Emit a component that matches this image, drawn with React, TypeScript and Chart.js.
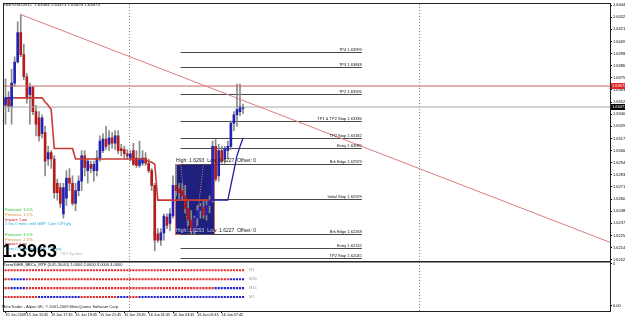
import React, { useEffect, useRef } from "react";
import { Chart, registerables } from "chart.js";

Chart.register(...registerables);

const FONT = "'Liberation Sans', 'DejaVu Sans', sans-serif";

const symbolTitle = "GBPUSD,M15  1.63464 1.63473 1.63459 1.63473";

// 15-minute candles, bar 0 = 15 Jun 2009 14:00
const opens = [1.6349,1.6356,1.6348,1.6370,1.6390,1.6418,1.6397,1.6376,1.6359,1.6366,
1.6343,1.6337,1.6322,1.6323,1.6298,1.6304,1.6298,1.6275,1.6271,1.6246,
1.6261,1.6280,1.6275,1.6256,1.6268,1.6277,1.6301,1.6287,1.6293,1.6287,
1.6287,1.6299,1.6306,1.6317,1.6312,1.6318,1.6313,1.6320,1.6308,1.6307,
1.6303,1.6299,1.6306,1.6299,1.6292,1.6294,1.6299,1.6294,1.6287,1.6273,
1.6227,1.6221,1.6228,1.6243,1.6237,1.6244,1.6273,1.6270,1.6268,1.6263,
1.6251,1.6240,1.6230,1.6242,1.6249,1.6253,1.6245,1.6254,1.6259,1.6310,
1.6282,1.6306,1.6298,1.6306,1.6310,1.6332,1.6340,1.6343,1.6346];
const highs = [1.6374,1.6362,1.6383,1.6395,1.6428,1.6435,1.6407,1.6379,1.6370,1.6367,
1.6349,1.6343,1.6340,1.6329,1.6310,1.6306,1.6301,1.6279,1.6275,1.6275,
1.6287,1.6289,1.6282,1.6275,1.6282,1.6306,1.6306,1.6298,1.6296,1.6296,
1.6306,1.6320,1.6322,1.6329,1.6325,1.6323,1.6325,1.6325,1.6312,1.6310,
1.6307,1.6306,1.6313,1.6306,1.6315,1.6306,1.6304,1.6298,1.6289,1.6275,
1.6232,1.6232,1.6246,1.6246,1.6251,1.6282,1.6293,1.6275,1.6275,1.6273,
1.6259,1.6249,1.6244,1.6254,1.6256,1.6259,1.6259,1.6263,1.6315,1.6317,
1.6312,1.6310,1.6310,1.6315,1.6334,1.6343,1.6369,1.6369,1.6350];
const lows = [1.6331,1.6343,1.6331,1.6367,1.6389,1.6395,1.6373,1.6351,1.6331,1.6340,
1.6320,1.6315,1.6318,1.6282,1.6292,1.6289,1.6261,1.6259,1.6252,1.6242,
1.6254,1.6268,1.6254,1.6249,1.6263,1.6268,1.6282,1.6275,1.6285,1.6277,
1.6282,1.6296,1.6304,1.6307,1.6306,1.6308,1.6307,1.6303,1.6301,1.6299,
1.6298,1.6296,1.6292,1.6290,1.6290,1.6292,1.6292,1.6285,1.6268,1.6211,
1.6219,1.6216,1.6221,1.6232,1.6230,1.6242,1.6263,1.6260,1.6259,1.6247,
1.6235,1.6227,1.6227,1.6235,1.6242,1.6242,1.6240,1.6247,1.6257,1.6277,
1.6277,1.6294,1.6294,1.6298,1.6307,1.6325,1.6329,1.6339,1.6341];
const closes = [1.6356,1.6348,1.6370,1.6390,1.6418,1.6397,1.6376,1.6357,1.6366,1.6343,
1.6331,1.6320,1.6337,1.6296,1.6304,1.6298,1.6266,1.6266,1.6256,1.6271,
1.6280,1.6275,1.6256,1.6268,1.6277,1.6301,1.6290,1.6296,1.6289,1.6293,
1.6299,1.6315,1.6317,1.6310,1.6318,1.6313,1.6320,1.6306,1.6306,1.6303,
1.6301,1.6303,1.6293,1.6292,1.6298,1.6299,1.6294,1.6287,1.6273,1.6221,
1.6221,1.6228,1.6244,1.6235,1.6246,1.6273,1.6268,1.6266,1.6263,1.6251,
1.6240,1.6230,1.6242,1.6249,1.6253,1.6245,1.6254,1.6259,1.6310,1.6279,
1.6306,1.6296,1.6308,1.6310,1.6332,1.6340,1.6345,1.6348,1.6347];

// trailing stop line: [bar, price]
const redStop: [number, number][] = [[3,1.6356],[12,1.6356],[13,1.6352],[14,1.6349],[15,1.6345],[16,1.6308],[22,1.6308],[23,1.6298],[45,1.6298],[46,1.6297],[47,1.6296],[48,1.6295],[49,1.6293],[50,1.6259],[67,1.6259]];
const blueStop: [number, number | null][] = [[0,1.6356],[3,1.6356],[35,null],[67,1.6259],[73,1.6259],[74,1.6273],[75,1.6287],[76,1.6301],[77,1.6310],[78,1.6318]];

const trendLine: [number, number][] = [[5, 1.6435], [198.5, 1.6219]];
const resistanceLevel = 1.63672;
const bidLevel = 1.63473;

const targetPrices = [1.63999, 1.63848, 1.63596, 1.63336, 1.63182, 1.63085, 1.62929, 1.62599, 1.62268, 1.62132, 1.62045];
const targetNames = ["TP4", "TP3", "TP2", "TP1 & TP2 Stop", "TP2 Stop", "Entry", "Brk Edge", "Initial Stop", "Brk Edge", "Entry", "TP2 Stop"];
const targetFrom = 57.5;
const targetTo = 117;

const boxHigh = 1.6293;
const boxLow = 1.6227;
const boxFrom = 55.5;
const boxTo = 68.5;
const boxLabel = "High: 1.6293  Low: 1.6227  Offset: 0";
const boxGuides: [number, number][] = [[57.5, 60], [65, 62.3]];

const daySeparators = [40.6, 135.8];

const xTickIdx = [0, 7, 15, 23, 31, 39, 47, 55, 63, 71];
const xTickLabels = ["15 Jun 2009", "15 Jun 15:45", "15 Jun 17:45", "15 Jun 19:45", "15 Jun 21:45", "15 Jun 23:45", "16 Jun 01:45", "16 Jun 03:45", "16 Jun 05:45", "16 Jun 07:45"];
const yTickValues = [1.62025, 1.62140, 1.62255, 1.62370, 1.62485, 1.62600, 1.62715, 1.62830, 1.62945, 1.63060, 1.63175, 1.63290, 1.63405, 1.63520, 1.63635, 1.63750, 1.63865, 1.63980, 1.64095, 1.64210, 1.64325, 1.64440];

const panelTitle = "TzeroSilHS_BBCa_MTF (0.05,30,60) 1.0000 2.0000 3.0000 4.0000";
const panelRows = ["H1", "M30", "M15", "M5"];
const panelRowValues = [4, 3, 2, 1];
const h1Runs: [string, number][] = [["d", 79]];
const m30Runs: [string, number][] = [["d", 2], ["u", 5], ["d", 67], ["u", 5]];
const m15Runs: [string, number][] = [["d", 2], ["u", 5], ["d", 62], ["u", 10]];
const m5Runs: [string, number][] = [["d", 11], ["u", 14], ["d", 12], ["u", 4], ["d", 3], ["u", 35]];

const newsGroup1: [string, string][] = [["Forecast: 1.5%", "#22c022"], ["Previous: 1.5%", "#d88a2a"], ["Impact: Low", "#c42020"], ["1 hrs 0 mins until GBP: Core CPI y/y", "#1fa8d8"]];
const newsGroup2: [string, string][] = [["Forecast: 1.5%", "#22c022"], ["Previous: 2.3%", "#d88a2a"], ["Impact: Low", "#c42020"], ["1 hrs 0 mins until GBP: CPI y/y", "#1fa8d8"]];
const bigValue = "1.3963";
const systemName = "TSV System";
const footer = "MetaTrader - Alpari UK, \u00a9 2001-2009 MetaQuotes Software Corp.";

const BULL = "#2323b4";
const BEAR = "#b21c1c";
const DOT_UP = "#2020d0";
const DOT_DN = "#e42a2a";

function expandRuns(runs: [string, number][]): string[] {
  const out: string[] = [];
  runs.forEach(([s, n]) => { for (let k = 0; k < n; k++) out.push(s); });
  return out;
}

const overlayPlugin = {
  id: "mtOverlay",
  beforeDatasetsDraw(chart: any) {
    const { ctx, chartArea, scales } = chart;
    const x = scales.x, y = scales.y;
    ctx.save();
    ctx.strokeStyle = "#8c8c8c";
    ctx.lineWidth = 1;
    ctx.setLineDash([1, 2]);
    daySeparators.forEach((d) => {
      const px = Math.round(x.getPixelForValue(d)) + 0.5;
      ctx.beginPath();
      ctx.moveTo(px, chartArea.top);
      ctx.lineTo(px, chartArea.bottom);
      ctx.stroke();
    });
    ctx.setLineDash([]);
    const bx1 = Math.round(x.getPixelForValue(boxFrom));
    const bx2 = Math.round(x.getPixelForValue(boxTo));
    const by1 = Math.round(y.getPixelForValue(boxHigh));
    const by2 = Math.round(y.getPixelForValue(boxLow));
    ctx.fillStyle = "#1f1f7e";
    ctx.fillRect(bx1, by1, bx2 - bx1, by2 - by1);
    ctx.strokeStyle = "#d46a6a";
    ctx.strokeRect(bx1 + 0.5, by1 + 0.5, bx2 - bx1, by2 - by1);
    ctx.setLineDash([1, 1.5]);
    ctx.strokeStyle = "#e08a8a";
    boxGuides.forEach(([a, b]) => {
      ctx.beginPath();
      ctx.moveTo(x.getPixelForValue(a), by1);
      ctx.lineTo(x.getPixelForValue(b), by2);
      ctx.stroke();
    });
    ctx.setLineDash([]);
    ctx.strokeStyle = "#484848";
    const tx1 = x.getPixelForValue(targetFrom);
    const tx2 = x.getPixelForValue(targetTo);
    targetPrices.forEach((p) => {
      const py = Math.round(y.getPixelForValue(p)) + 0.5;
      ctx.beginPath();
      ctx.moveTo(tx1, py);
      ctx.lineTo(tx2, py);
      ctx.stroke();
    });
    ctx.restore();
  },
  afterDraw(chart: any) {
    const { ctx, chartArea, scales } = chart;
    const x = scales.x, y = scales.y, y2 = scales.y2;
    ctx.save();
    ctx.textBaseline = "alphabetic";
    ctx.font = `4px ${FONT}`;
    ctx.fillStyle = "#111";
    ctx.textAlign = "right";
    const tx2 = x.getPixelForValue(targetTo);
    targetPrices.forEach((p, k) => {
      const py = Math.round(y.getPixelForValue(p));
      ctx.fillText(`${targetNames[k]} ${p.toFixed(5)}`, tx2, py - 1);
    });
    ctx.textAlign = "left";
    ctx.font = `5px ${FONT}`;
    const bx1 = Math.round(x.getPixelForValue(boxFrom));
    const bx2 = Math.round(x.getPixelForValue(boxTo));
    const by1 = Math.round(y.getPixelForValue(boxHigh));
    const by2 = Math.round(y.getPixelForValue(boxLow));
    ctx.fillStyle = "#222";
    ctx.fillText(boxLabel, bx1 + 1, by1 - 2);
    ctx.save();
    ctx.beginPath();
    ctx.rect(bx2, by2 - 8, 200, 10);
    ctx.clip();
    ctx.fillStyle = "#222";
    ctx.fillText(boxLabel, bx1 + 1, by2 - 2);
    ctx.restore();
    ctx.save();
    ctx.beginPath();
    ctx.rect(bx1, by2 - 8, bx2 - bx1, 10);
    ctx.clip();
    ctx.fillStyle = "#c8c8e8";
    ctx.fillText(boxLabel, bx1 + 1, by2 - 2);
    ctx.restore();
    ctx.font = `4.3px ${FONT}`;
    ctx.fillStyle = "#111";
    ctx.fillText(symbolTitle, 4, 6);
    ctx.textBaseline = "middle";
    ctx.font = `4.1px ${FONT}`;
    newsGroup1.forEach(([t, c], k) => { ctx.fillStyle = c; ctx.fillText(t, 5, 210 + k * 4.7); });
    newsGroup2.forEach(([t, c], k) => { ctx.fillStyle = c; ctx.fillText(t, 5, 235 + k * 4.5); });
    ctx.fillStyle = "#b4b4b4";
    ctx.fillText(systemName, 60, 253.5);
    ctx.textBaseline = "alphabetic";
    ctx.font = `bold 18px ${FONT}`;
    ctx.fillStyle = "#000";
    ctx.fillText(bigValue, 2, 257);
    ctx.font = `4px ${FONT}`;
    ctx.fillStyle = "#111";
    ctx.textBaseline = "middle";
    ctx.fillText(panelTitle, 3, y2.top + 3.5);
    ctx.fillStyle = "#9a9a9a";
    ctx.font = `4px ${FONT}`;
    const lx = x.getPixelForValue(78) + 6;
    panelRows.forEach((n, k) => ctx.fillText(n, lx, y2.getPixelForValue(panelRowValues[k])));
    ctx.fillStyle = "#222";
    ctx.font = `4px ${FONT}`;
    ctx.fillText(footer, 2, chartArea.bottom - 4);
    ctx.strokeStyle = "#222";
    ctx.lineWidth = 1;
    ctx.strokeRect(chartArea.left - 0.5, chartArea.top - 0.5, chartArea.right - chartArea.left + 1, chartArea.bottom - chartArea.top + 1);
    ctx.lineWidth = 1.5;
    ctx.beginPath();
    ctx.moveTo(chartArea.left, y.bottom + 0.5);
    ctx.lineTo(chartArea.right, y.bottom + 0.5);
    ctx.stroke();
    ctx.font = `4px ${FONT}`;
    ctx.textAlign = "left";
    const tag = (p: number, bg: string) => {
      const py = Math.round(y.getPixelForValue(p));
      ctx.fillStyle = bg;
      ctx.fillRect(chartArea.right + 1, py - 3, 15, 6);
      ctx.fillStyle = "#fff";
      ctx.fillText(p.toFixed(5), chartArea.right + 2, py + 0.2);
    };
    tag(resistanceLevel, "#e02424");
    tag(bidLevel, "#000");
    ctx.restore();
  },
};

export default function App() {
  const ref = useRef<HTMLCanvasElement>(null);
  useEffect(() => {
    document.body.style.margin = "0";
    const idx = opens.map((_, i) => i);
    const wickData = idx.map((i) => ({ x: i, y: [lows[i], highs[i]] }));
    const bodyData = idx.map((i) => ({ x: i, y: [opens[i], closes[i]] }));
    const bodyColors = idx.map((i) => (closes[i] >= opens[i] ? BULL : BEAR));
    const rows = [h1Runs, m30Runs, m15Runs, m5Runs].map(expandRuns);

    const datasets: any[] = [
      { type: "bar", data: wickData, backgroundColor: "#8a8a8a", barThickness: 1, grouped: false, order: 10, yAxisID: "y", borderWidth: 0 },
      { type: "bar", data: bodyData, backgroundColor: bodyColors, barThickness: 2, grouped: false, order: 9, yAxisID: "y", borderWidth: 0, minBarLength: 1 },
      { type: "line", data: [{ x: -0.5, y: resistanceLevel }, { x: 198.5, y: resistanceLevel }], borderColor: "#c86464", borderWidth: 1, pointRadius: 0, order: 8, yAxisID: "y" },
      { type: "line", data: [{ x: -0.5, y: bidLevel }, { x: 198.5, y: bidLevel }], borderColor: "#a8a8a8", borderWidth: 1, pointRadius: 0, order: 8, yAxisID: "y" },
      { type: "line", data: redStop.map(([a, b]) => ({ x: a, y: b })), borderColor: "#c83a3a", borderWidth: 1.6, pointRadius: 0, order: 3, yAxisID: "y", tension: 0 },
      { type: "line", data: blueStop.map(([a, b]) => ({ x: a, y: b })), borderColor: "#1d1da6", borderWidth: 1.3, pointRadius: 0, order: 3, yAxisID: "y", spanGaps: false, tension: 0 },
      { type: "line", data: trendLine.map(([a, b]) => ({ x: a, y: b })), borderColor: "#de7c7c", borderWidth: 1, pointRadius: 0, order: 2, yAxisID: "y" },
    ];
    rows.forEach((states, r) => {
      datasets.push({
        type: "scatter",
        yAxisID: "y2",
        data: states.map((_, i) => ({ x: i, y: panelRowValues[r] })),
        pointBackgroundColor: states.map((s) => (s === "u" ? DOT_UP : DOT_DN)),
        pointBorderWidth: 0,
        pointRadius: 1.5,
        pointStyle: "rect",
        showLine: false,
        order: 1,
      });
    });

    const chart = new Chart(ref.current as HTMLCanvasElement, {
      type: "bar",
      data: { datasets },
      options: {
        animation: false,
        responsive: false,
        devicePixelRatio: 1,
        events: [],
        layout: { padding: { top: 2, left: 1, right: 0, bottom: 0 } },
        plugins: { legend: { display: false }, tooltip: { enabled: false } },
        scales: {
          x: {
            type: "linear",
            min: -0.5,
            max: 198.5,
            offset: false,
            position: "bottom",
            grid: { display: true, drawOnChartArea: false, drawTicks: true, tickLength: 2, color: "#000", offset: false },
            border: { display: true, color: "#000" },
            ticks: {
              autoSkip: false, maxRotation: 0, minRotation: 0, align: "start", padding: 0, color: "#000",
              font: { size: 3.7, family: FONT },
              callback: (v: any) => { const k = xTickIdx.indexOf(Number(v)); return k >= 0 ? xTickLabels[k] : ""; },
            },
            afterBuildTicks: (s: any) => { s.ticks = xTickIdx.map((v) => ({ value: v })); },
            afterFit: (s: any) => { s.height = 7; s.paddingLeft = 0; s.paddingRight = 0; },
          },
          y: {
            type: "linear",
            position: "right",
            stack: "price",
            stackWeight: 259,
            weight: 0,
            min: 1.6201,
            max: 1.6445,
            grid: { display: true, drawOnChartArea: false, drawTicks: true, tickLength: 2, color: "#000" },
            border: { display: true, color: "#000" },
            ticks: {
              autoSkip: false, padding: 1, color: "#000", font: { size: 4, family: FONT },
              callback: (v: any) => Number(v).toFixed(5),
            },
            afterBuildTicks: (s: any) => { s.ticks = yTickValues.map((v) => ({ value: v })); },
            afterFit: (s: any) => { s.width = 15; s.paddingTop = 0; s.paddingBottom = 0; },
          },
          y2: {
            type: "linear",
            position: "right",
            stack: "price",
            stackWeight: 50,
            weight: 1,
            min: -0.56,
            max: 5,
            grid: { display: true, drawOnChartArea: false, drawTicks: true, tickLength: 2, color: "#000" },
            border: { display: true, color: "#000" },
            ticks: {
              autoSkip: false, padding: 1, color: "#000", font: { size: 4, family: FONT },
              callback: (v: any) => (Number(v) === 0 ? "0.00" : "5"),
            },
            afterBuildTicks: (s: any) => { s.ticks = [{ value: 4.75 }, { value: 0 }]; },
            afterFit: (s: any) => { s.width = 15; s.paddingTop = 0; s.paddingBottom = 0; },
          },
        },
      } as any,
      plugins: [overlayPlugin],
    } as any);
    return () => chart.destroy();
  }, []);
  return (
    <div style={{ width: 625, height: 318, background: "#fff" }}>
      <canvas ref={ref} width={625} height={318} style={{ display: "block", width: 625, height: 318 }} />
    </div>
  );
}
